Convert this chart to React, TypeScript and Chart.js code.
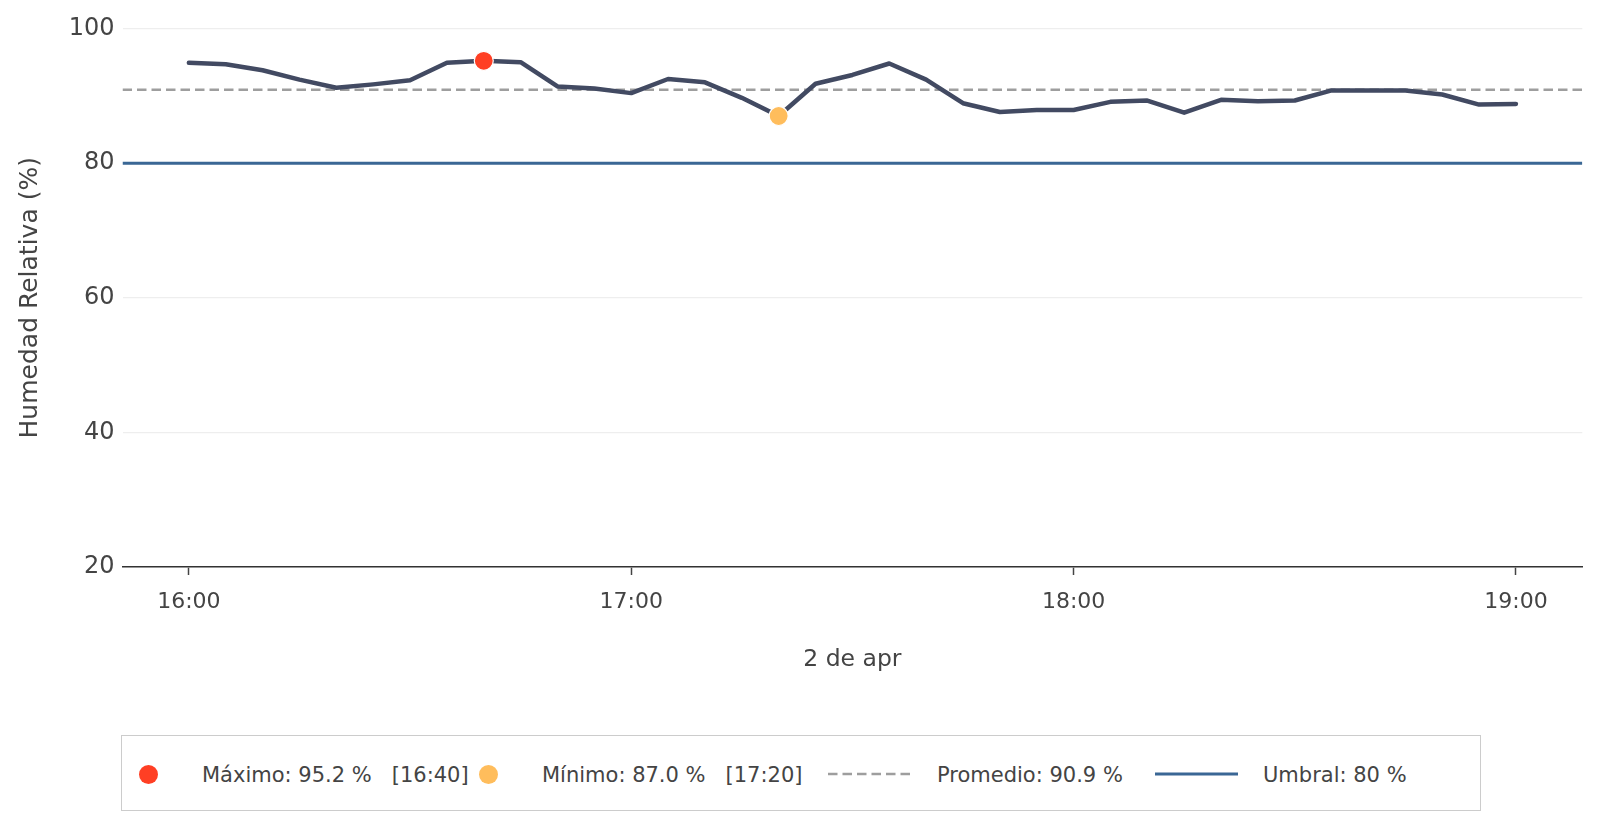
import React, { useEffect, useRef } from "react";
import { Chart, registerables } from "chart.js";

Chart.register(...registerables);

// ---- data ----
const timeLabels = [
  "16:00", "16:05", "16:10", "16:15", "16:20", "16:25", "16:30", "16:35", "16:40", "16:45",
  "16:50", "16:55", "17:00", "17:05", "17:10", "17:15", "17:20", "17:25", "17:30", "17:35",
  "17:40", "17:45", "17:50", "17:55", "18:00", "18:05", "18:10", "18:15", "18:20", "18:25",
  "18:30", "18:35", "18:40", "18:45", "18:50", "18:55", "19:00",
];
const humidity = [
  94.9, 94.7, 93.8, 92.4, 91.2, 91.7, 92.3, 94.9, 95.2, 95.0,
  91.4, 91.1, 90.4, 92.5, 92.0, 89.7, 87.0, 91.8, 93.1, 94.8,
  92.4, 88.9, 87.6, 87.9, 87.9, 89.1, 89.3, 87.5, 89.4, 89.2,
  89.3, 90.8, 90.8, 90.8, 90.2, 88.7, 88.8,
];
const averageValue = 90.9;
const thresholdValue = 80;
const xTickLabels = ["16:00", "17:00", "18:00", "19:00"];
const yTickValues = [20, 40, 60, 80, 100];
const xAxisTitle = "2 de apr";
const yAxisTitle = "Humedad Relativa (%)";
const legendLabels = [
  "Máximo: 95.2 %   [16:40]",
  "Mínimo: 87.0 %   [17:20]",
  "Promedio: 90.9 %",
  "Umbral: 80 %",
];

// ---- colours ----
const LINE_COLOR = "#424a62";
const MAX_COLOR = "#ff3f24";
const MIN_COLOR = "#ffbd5c";
const AVG_COLOR = "#9e9e9e";
const THRESH_COLOR = "#3a6795";
const TEXT_COLOR = "#444444";
const FONT = "'DejaVu Sans', sans-serif";

const toMinutes = (t: string) => {
  const [h, m] = t.split(":").map(Number);
  return h * 60 + m;
};
const fmt = (v: number) => {
  const h = Math.floor(v / 60);
  const m = Math.round(v - h * 60);
  return `${h}:${m.toString().padStart(2, "0")}`;
};

export default function App() {
  const ref = useRef<HTMLCanvasElement | null>(null);

  useEffect(() => {
    if (!ref.current) return;
    const xs = timeLabels.map(toMinutes);
    const span = xs[xs.length - 1] - xs[0];
    const xMin = xs[0] - span * 0.05;
    const xMax = xs[xs.length - 1] + span * 0.05;
    const pts = xs.map((x, i) => ({ x, y: humidity[i] }));
    const maxIdx = humidity.indexOf(Math.max(...humidity));
    const minIdx = humidity.indexOf(Math.min(...humidity));

    const chart = new Chart(ref.current, {
      type: "line",
      data: {
        datasets: [
          {
            label: "max",
            data: [pts[maxIdx]],
            showLine: false,
            pointRadius: 9.5,
            pointBackgroundColor: MAX_COLOR,
            pointBorderColor: "#ffffff",
            pointBorderWidth: 1.2,
            order: 0,
          },
          {
            label: "min",
            data: [pts[minIdx]],
            showLine: false,
            pointRadius: 9.5,
            pointBackgroundColor: MIN_COLOR,
            pointBorderColor: "#ffffff",
            pointBorderWidth: 1.2,
            order: 0,
          },
          {
            label: "humedad",
            data: pts,
            borderColor: LINE_COLOR,
            borderWidth: 4.5,
            pointRadius: 0,
            tension: 0,
            borderJoinStyle: "round",
            borderCapStyle: "round",
            order: 1,
          },
          {
            label: "promedio",
            data: [
              { x: xMin, y: averageValue },
              { x: xMax, y: averageValue },
            ],
            borderColor: AVG_COLOR,
            borderWidth: 2.5,
            borderDash: [9.5, 5],
            pointRadius: 0,
            order: 2,
          },
          {
            label: "umbral",
            data: [
              { x: xMin, y: thresholdValue },
              { x: xMax, y: thresholdValue },
            ],
            borderColor: THRESH_COLOR,
            borderWidth: 3,
            pointRadius: 0,
            order: 3,
          },
        ],
      },
      options: {
        animation: false,
        responsive: true,
        maintainAspectRatio: false,
        layout: { padding: { left: 0, right: 9, top: 20.5, bottom: 0 } },
        plugins: {
          legend: { display: false },
          tooltip: { enabled: false },
          title: { display: false },
        },
        scales: {
          x: {
            type: "linear",
            min: xMin,
            max: xMax,
            afterBuildTicks: (axis: any) => {
              axis.ticks = xTickLabels.map((t) => ({ value: toMinutes(t) }));
            },
            afterFit: (axis: any) => {
              axis.height = 131;
            },
            ticks: {
              callback: (v: any) => fmt(Number(v)),
              color: TEXT_COLOR,
              font: { family: FONT, size: 22 },
              padding: 14,
              maxRotation: 0,
              autoSkip: false,
            },
            grid: {
              display: true,
              drawOnChartArea: false,
              drawTicks: true,
              tickLength: 8,
              tickColor: "#444444",
              tickWidth: 1.5,
            },
            border: { display: true, color: "#333333", width: 1.6 },
            title: {
              display: true,
              text: xAxisTitle,
              color: TEXT_COLOR,
              font: { family: FONT, size: 23.5 },
              padding: { top: 0, bottom: 24 },
            },
          },
          y: {
            type: "linear",
            min: 20,
            max: 100,
            afterBuildTicks: (axis: any) => {
              axis.ticks = yTickValues.map((v) => ({ value: v }));
            },
            afterFit: (axis: any) => {
              axis.width = 114.5;
              axis.paddingTop = 0;
              axis.paddingBottom = 0;
            },
            ticks: {
              color: TEXT_COLOR,
              font: { family: FONT, size: 24 },
              padding: 8,
            },
            grid: {
              color: "#eeeeee",
              lineWidth: 1.2,
              drawTicks: false,
            },
            border: { display: false },
            title: {
              display: true,
              text: yAxisTitle,
              color: TEXT_COLOR,
              font: { family: FONT, size: 25 },
              padding: { top: 7, bottom: 0 },
            },
          },
        },
      },
    } as any);
    return () => chart.destroy();
  }, []);

  const textStyle: React.CSSProperties = {
    position: "absolute",
    top: 754,
    height: 26,
    lineHeight: "26px",
    fontFamily: FONT,
    fontSize: 21,
    color: TEXT_COLOR,
    whiteSpace: "pre",
  };
  const dot = (cx: number, color: string): React.CSSProperties => ({
    position: "absolute",
    left: cx - 9.5,
    top: 766 - 9.5,
    width: 19,
    height: 19,
    borderRadius: "50%",
    background: color,
  });

  return (
    <div style={{ position: "relative", width: 1585, height: 810 }}>
      <div style={{ position: "absolute", left: 0, top: 0, width: 1585, height: 690 }}>
        <canvas ref={ref} />
      </div>
      <div
        style={{
          position: "absolute",
          left: 112.5,
          top: 727,
          width: 1360,
          height: 76,
          boxSizing: "border-box",
          border: "1.5px solid #cccccc",
        }}
      />
      <div style={dot(140, MAX_COLOR)} />
      <div style={{ ...textStyle, left: 194 }}>{legendLabels[0]}</div>
      <div style={dot(480, MIN_COLOR)} />
      <div style={{ ...textStyle, left: 534 }}>{legendLabels[1]}</div>
      <svg style={{ position: "absolute", left: 820, top: 756 }} width={84} height={20}>
        <line x1={0} y1={10} x2={84} y2={10} stroke={AVG_COLOR} strokeWidth={2.5} strokeDasharray="9.5 5" />
      </svg>
      <div style={{ ...textStyle, left: 929 }}>{legendLabels[2]}</div>
      <svg style={{ position: "absolute", left: 1147, top: 756 }} width={83} height={20}>
        <line x1={0} y1={10} x2={83} y2={10} stroke={THRESH_COLOR} strokeWidth={3} />
      </svg>
      <div style={{ ...textStyle, left: 1255 }}>{legendLabels[3]}</div>
    </div>
  );
}
